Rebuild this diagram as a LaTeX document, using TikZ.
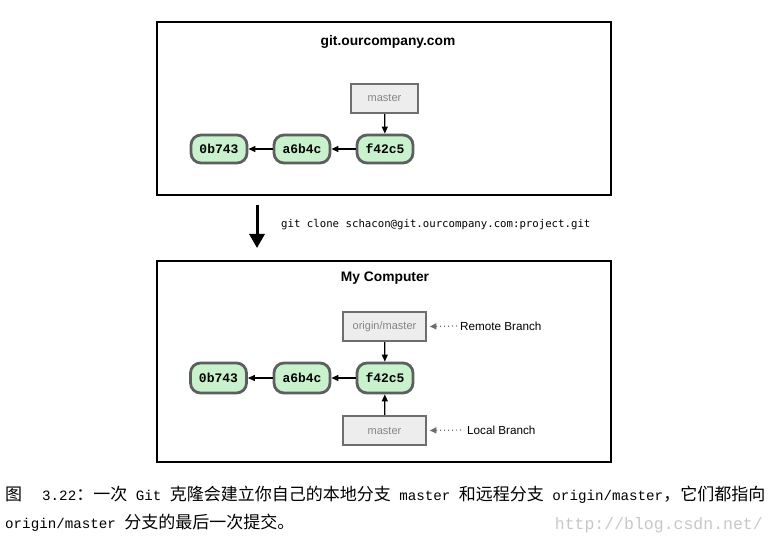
\documentclass[tikz,border=0pt]{standalone}
\usepackage{fontspec}
\setmainfont{Liberation Sans}
\newfontfamily\cjk{Noto Sans CJK SC}
\newfontfamily\capmono{Liberation Mono}
\newfontfamily\cmdmono{DejaVu Sans Mono}
\usepackage{tikz}
\usetikzlibrary{positioning}
\usetikzlibrary{arrows.meta}

\definecolor{commitfill}{HTML}{C8F2CC}
\definecolor{commitline}{HTML}{5E5E5E}
\definecolor{reffill}{HTML}{EDEDED}
\definecolor{refline}{HTML}{6E6E6E}
\definecolor{reftext}{HTML}{858585}

\newcommand\capzh[1]{{\cjk\fontsize{17}{20}\selectfont #1}}
\newcommand\capen[1]{{\capmono\fontsize{14.2}{20}\selectfont #1}}

\begin{document}
\begin{tikzpicture}[x=1pt,y=-1pt,
    commit/.style={draw=commitline,fill=commitfill,line width=2.8pt,rounded corners=10pt,
        minimum width=56pt,minimum height=28pt,inner sep=0pt,font=\capmono\bfseries\fontsize{13}{15}\selectfont},
    ref/.style={draw=refline,fill=reffill,line width=1.6pt,minimum height=29.5pt,inner sep=0pt,
        text=reftext,font=\fontsize{11}{13}\selectfont},
    frame/.style={draw,line width=2pt,minimum width=454pt},
    title/.style={font=\bfseries\fontsize{13.8}{16}\selectfont},
    hint/.style={anchor=west,inner sep=0pt,font=\fontsize{11.7}{14}\selectfont},
    link/.style={-{Triangle[length=7pt,width=6pt]},line width=1.2pt},
    hintlink/.style={{Triangle[length=6.5pt,width=6pt]}-,refline,line width=1.2pt,dash pattern=on 1.2pt off 2.8pt}]
        \useasboundingbox (0,0) rectangle (776,545);

        % server side
        \node[frame,minimum height=173pt] (server) at (384,108.5) {};
        \node[title] (servername) at (388,42) {git.ourcompany.com};
        \node[commit] (s0) at (219,149) {0b743};
        \node[commit] (s1) at (302,149) {a6b4c};
        \node[commit] (s2) at (385,149) {f42c5};
        \node[ref,minimum width=67pt] (smaster) at (384.5,98.5) {master};
        \draw[link] (s2) -- (s1);
        \draw[link] (s1) -- (s0);
        \draw[link] (smaster) -- (s2);

        % clone
        \coordinate (clonetop) at (257,205);
        \coordinate (clonebot) at (257,248);
        \draw[line width=3pt,-{Triangle[length=14pt,width=15pt]}] (clonetop) -- (clonebot);
        \node[anchor=west,inner sep=0pt,font=\cmdmono\fontsize{10.7}{13}\selectfont] (clonecmd) at (281,225) {git clone schacon@git.ourcompany.com:project.git};

        % local side
        \node[frame,minimum height=201pt] (local) at (384,361.5) {};
        \node[title] (localname) at (385,278) {My Computer};
        \node[commit,minimum height=30pt] (l0) at (218.5,378) {0b743};
        \node[commit,minimum height=30pt] (l1) at (302,378) {a6b4c};
        \node[commit,minimum height=30pt] (l2) at (385,378) {f42c5};
        \node[ref,minimum width=83pt] (omaster) at (384.5,326.5) {origin/master};
        \node[ref,minimum width=83pt] (lmaster) at (384.5,430.5) {master};
        \draw[link] (l2) -- (l1);
        \draw[link] (l1) -- (l0);
        \draw[link] (omaster) -- (l2);
        \draw[link] (lmaster) -- (l2);
        \node[hint] (remote) at (460,326) {Remote Branch};
        \node[hint] (localbr) at (467,430) {Local Branch};
        \draw[hintlink] ([xshift=3pt]omaster.east) -- ([xshift=-3pt]remote.west);
        \draw[hintlink] ([xshift=3pt]lmaster.east) -- ([xshift=-3pt]localbr.west);

        % caption
        \node[anchor=west,inner sep=0pt] (cap1) at (5,495) {\capzh{图}\hspace{20pt}\capen{3.22}\capzh{：一次}\hspace{8.5pt}\capen{Git}\hspace{8.5pt}\capzh{克隆会建立你自己的本地分支}\hspace{8.5pt}\capen{master}\hspace{8.5pt}\capzh{和远程分支}\hspace{8.5pt}\capen{origin/master}\capzh{，它们都指向}};
        \node[anchor=west,inner sep=0pt] (cap2) at (5,523) {\capen{origin/master}\hspace{8.5pt}\capzh{分支的最后一次提交。}};
        \node[anchor=east,inner sep=0pt,text=black!22,font=\capmono\fontsize{16.5}{20}\selectfont] (mark) at (763,525) {http://blog.csdn.net/};
    \end{tikzpicture}
\end{document}
